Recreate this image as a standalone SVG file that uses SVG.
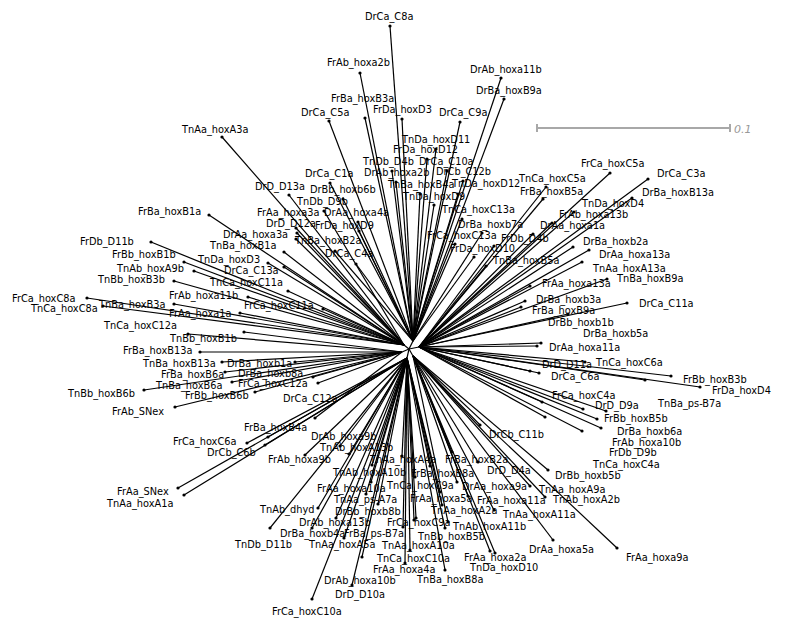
<svg xmlns="http://www.w3.org/2000/svg" width="785" height="623" viewBox="0 0 785 623">
<style>
text{font-family:"DejaVu Sans","Liberation Sans",sans-serif;font-size:9.8px;fill:#000}
circle{fill:#000}
.c line{stroke:#000;stroke-width:1.2}
.sb{stroke:#a8a8a8;stroke-width:2}
.sbt{font-family:"DejaVu Sans",sans-serif;font-style:italic;font-size:11px;fill:#999}
</style>
<rect width="785" height="623" fill="#fff"/>
<g id="scale"><line class="sb" x1="536" y1="128" x2="731" y2="128"/><line class="sb" x1="537" y1="124" x2="537" y2="132"/><line class="sb" x1="730" y1="124" x2="730" y2="132"/><text class="sbt" x="734" y="133">0.1</text></g>
<g class="c" id="connectors">
<line x1="409" y1="349" x2="413" y2="341"/><line x1="409" y1="349" x2="404" y2="345"/><line x1="409" y1="349" x2="402" y2="352"/><line x1="409" y1="349" x2="407" y2="358"/><line x1="409" y1="349" x2="413" y2="356"/><line x1="409" y1="349" x2="419" y2="347"/>
<line x1="413" y1="341" x2="390" y2="26"/><line x1="413" y1="341" x2="360" y2="73"/><line x1="413" y1="341" x2="501" y2="78"/><line x1="413" y1="341" x2="504" y2="99"/><line x1="413" y1="341" x2="365" y2="118"/><line x1="413" y1="341" x2="329" y2="121"/><line x1="413" y1="341" x2="402" y2="119"/><line x1="413" y1="341" x2="460" y2="122"/><line x1="413" y1="341" x2="436" y2="149"/><line x1="413" y1="341" x2="427" y2="159"/><line x1="413" y1="341" x2="392" y2="171"/><line x1="413" y1="341" x2="447" y2="171"/><line x1="413" y1="341" x2="330" y2="183"/><line x1="413" y1="341" x2="396" y2="182"/><line x1="413" y1="341" x2="463" y2="181"/><line x1="413" y1="341" x2="343" y2="199"/><line x1="413" y1="341" x2="420" y2="194"/><line x1="413" y1="341" x2="458" y2="194"/><line x1="413" y1="341" x2="434" y2="205"/><line x1="413" y1="341" x2="462" y2="219"/><line x1="413" y1="341" x2="482" y2="233"/><line x1="413" y1="341" x2="455" y2="244"/><line x1="413" y1="341" x2="474" y2="257"/><line x1="413" y1="341" x2="358" y2="222"/><line x1="413" y1="341" x2="359" y2="231"/><line x1="413" y1="341" x2="335" y2="251"/><line x1="413" y1="341" x2="356" y2="264"/>
<line x1="404" y1="345" x2="222" y2="137"/><line x1="404" y1="345" x2="289" y2="195"/><line x1="404" y1="345" x2="324" y2="211"/><line x1="404" y1="345" x2="296" y2="228"/><line x1="404" y1="345" x2="297" y2="233"/><line x1="404" y1="345" x2="296" y2="239"/><line x1="404" y1="345" x2="209" y2="215"/><line x1="404" y1="345" x2="284" y2="252"/><line x1="404" y1="345" x2="151" y2="242"/><line x1="404" y1="345" x2="184" y2="262"/><line x1="404" y1="345" x2="268" y2="263"/><line x1="404" y1="345" x2="194" y2="271"/><line x1="404" y1="345" x2="284" y2="267"/><line x1="404" y1="345" x2="174" y2="281"/><line x1="404" y1="345" x2="288" y2="291"/><line x1="404" y1="345" x2="248" y2="297"/><line x1="404" y1="345" x2="323" y2="309"/><line x1="404" y1="345" x2="87" y2="298"/><line x1="404" y1="345" x2="103" y2="306"/><line x1="404" y1="345" x2="174" y2="304"/><line x1="404" y1="345" x2="240" y2="313"/>
<line x1="402" y1="352" x2="188" y2="334"/><line x1="402" y1="352" x2="244" y2="332"/><line x1="402" y1="352" x2="200" y2="352"/><line x1="402" y1="352" x2="222" y2="362"/><line x1="402" y1="352" x2="295" y2="362"/><line x1="402" y1="352" x2="225" y2="372"/><line x1="402" y1="352" x2="313" y2="377"/><line x1="402" y1="352" x2="232" y2="382"/><line x1="402" y1="352" x2="318" y2="383"/><line x1="402" y1="352" x2="144" y2="390"/><line x1="402" y1="352" x2="255" y2="392"/><line x1="402" y1="352" x2="175" y2="407"/><line x1="402" y1="352" x2="315" y2="418"/>
<line x1="407" y1="358" x2="268" y2="437"/><line x1="407" y1="358" x2="247" y2="443"/><line x1="407" y1="358" x2="265" y2="445"/><line x1="407" y1="358" x2="178" y2="488"/><line x1="407" y1="358" x2="184" y2="495"/><line x1="407" y1="358" x2="340" y2="446"/><line x1="407" y1="358" x2="349" y2="454"/><line x1="407" y1="358" x2="305" y2="455"/><line x1="407" y1="358" x2="402" y2="456"/><line x1="407" y1="358" x2="372" y2="465"/><line x1="407" y1="358" x2="371" y2="482"/><line x1="407" y1="358" x2="415" y2="477"/><line x1="407" y1="358" x2="366" y2="494"/><line x1="407" y1="358" x2="378" y2="504"/><line x1="407" y1="358" x2="318" y2="508"/><line x1="407" y1="358" x2="336" y2="518"/><line x1="407" y1="358" x2="416" y2="518"/><line x1="407" y1="358" x2="312" y2="528"/><line x1="407" y1="358" x2="403" y2="527"/><line x1="407" y1="358" x2="270" y2="528"/><line x1="407" y1="358" x2="344" y2="538"/><line x1="407" y1="358" x2="414" y2="520"/><line x1="407" y1="358" x2="410" y2="550"/><line x1="407" y1="358" x2="405" y2="563"/><line x1="407" y1="358" x2="362" y2="557"/><line x1="407" y1="358" x2="352" y2="585"/><line x1="407" y1="358" x2="312" y2="599"/><line x1="407" y1="358" x2="430" y2="466"/><line x1="407" y1="358" x2="442" y2="505"/><line x1="407" y1="358" x2="445" y2="528"/><line x1="407" y1="358" x2="445" y2="570"/><line x1="407" y1="358" x2="440" y2="492"/>
<line x1="413" y1="356" x2="452" y2="452"/><line x1="413" y1="356" x2="480" y2="425"/><line x1="413" y1="356" x2="478" y2="462"/><line x1="413" y1="356" x2="548" y2="470"/><line x1="413" y1="356" x2="457" y2="482"/><line x1="413" y1="356" x2="530" y2="486"/><line x1="413" y1="356" x2="468" y2="496"/><line x1="413" y1="356" x2="545" y2="497"/><line x1="413" y1="356" x2="494" y2="510"/><line x1="413" y1="356" x2="448" y2="522"/><line x1="413" y1="356" x2="490" y2="551"/><line x1="413" y1="356" x2="553" y2="540"/><line x1="413" y1="356" x2="617" y2="548"/><line x1="413" y1="356" x2="495" y2="553"/>
<line x1="419" y1="347" x2="610" y2="173"/><line x1="419" y1="347" x2="648" y2="179"/><line x1="419" y1="347" x2="546" y2="187"/><line x1="419" y1="347" x2="543" y2="199"/><line x1="419" y1="347" x2="632" y2="198"/><line x1="419" y1="347" x2="574" y2="212"/><line x1="419" y1="347" x2="552" y2="223"/><line x1="419" y1="347" x2="533" y2="234"/><line x1="419" y1="347" x2="494" y2="246"/><line x1="419" y1="347" x2="573" y2="247"/><line x1="419" y1="347" x2="589" y2="250"/><line x1="419" y1="347" x2="486" y2="266"/><line x1="419" y1="347" x2="582" y2="262"/><line x1="419" y1="347" x2="607" y2="279"/><line x1="419" y1="347" x2="530" y2="286"/><line x1="419" y1="347" x2="525" y2="301"/><line x1="419" y1="347" x2="627" y2="303"/><line x1="419" y1="347" x2="521" y2="307"/><line x1="419" y1="347" x2="568" y2="314"/><line x1="419" y1="347" x2="541" y2="343"/><line x1="419" y1="347" x2="537" y2="346"/><line x1="419" y1="347" x2="585" y2="362"/><line x1="419" y1="347" x2="530" y2="371"/><line x1="419" y1="347" x2="539" y2="373"/><line x1="419" y1="347" x2="671" y2="376"/><line x1="419" y1="347" x2="700" y2="387"/><line x1="419" y1="347" x2="542" y2="402"/><line x1="419" y1="347" x2="583" y2="409"/><line x1="419" y1="347" x2="645" y2="380"/><line x1="419" y1="347" x2="597" y2="419"/><line x1="419" y1="347" x2="601" y2="428"/><line x1="419" y1="347" x2="582" y2="431"/><line x1="419" y1="347" x2="545" y2="417"/><line x1="419" y1="347" x2="606" y2="411"/>
</g>
<g id="nodes">
<g id="DrCa_C8a"><circle cx="390" cy="26" r="1.6"/><text x="365" y="20">DrCa_C8a</text></g>
<g id="FrAb_hoxa2b"><circle cx="360" cy="73" r="1.6"/><text x="327" y="66">FrAb_hoxa2b</text></g>
<g id="DrAb_hoxa11b"><circle cx="501" cy="78" r="1.6"/><text x="470" y="73">DrAb_hoxa11b</text></g>
<g id="DrBa_hoxB9a"><circle cx="504" cy="99" r="1.6"/><text x="476" y="94">DrBa_hoxB9a</text></g>
<g id="FrBa_hoxB3a"><circle cx="365" cy="118" r="1.6"/><text x="331" y="102">FrBa_hoxB3a</text></g>
<g id="DrCa_C5a"><circle cx="329" cy="121" r="1.6"/><text x="301" y="116">DrCa_C5a</text></g>
<g id="FrDa_hoxD3"><circle cx="402" cy="119" r="1.6"/><text x="373" y="113">FrDa_hoxD3</text></g>
<g id="DrCa_C9a"><circle cx="460" cy="122" r="1.6"/><text x="439" y="116">DrCa_C9a</text></g>
<g id="TnDa_hoxD11"><circle cx="436" cy="149" r="1.6"/><text x="402" y="143">TnDa_hoxD11</text></g>
<g id="FrDa_hoxD12"><circle cx="427" cy="159" r="1.6"/><text x="393" y="153">FrDa_hoxD12</text></g>
<g id="TnDb_D4b"><circle cx="392" cy="171" r="1.6"/><text x="363" y="165">TnDb_D4b</text></g>
<g id="DrCa_C10a"><circle cx="447" cy="171" r="1.6"/><text x="419" y="165">DrCa_C10a</text></g>
<g id="DrCa_C1a"><circle cx="330" cy="183" r="1.6"/><text x="305" y="177">DrCa_C1a</text></g>
<g id="DrAb_hoxa2b"><circle cx="396" cy="182" r="1.6"/><text x="364" y="176">DrAb_hoxa2b</text></g>
<g id="DrCb_C12b"><circle cx="463" cy="181" r="1.6"/><text x="436" y="175">DrCb_C12b</text></g>
<g id="DrBb_hoxb6b"><circle cx="343" cy="199" r="1.6"/><text x="310" y="193">DrBb_hoxb6b</text></g>
<g id="TnBa_hoxB4a"><circle cx="420" cy="194" r="1.6"/><text x="388" y="188">TnBa_hoxB4a</text></g>
<g id="TnDa_hoxD12"><circle cx="458" cy="194" r="1.6"/><text x="452" y="187">TnDa_hoxD12</text></g>
<g id="TnDa_hoxD9"><circle cx="434" cy="205" r="1.6"/><text x="403" y="200">TnDa_hoxD9</text></g>
<g id="TnCa_hoxC13a"><circle cx="462" cy="219" r="1.6"/><text x="442" y="213">TnCa_hoxC13a</text></g>
<g id="DrBa_hoxb7a"><circle cx="482" cy="233" r="1.6"/><text x="458" y="228">DrBa_hoxb7a</text></g>
<g id="FrCa_hoxC13a"><circle cx="455" cy="244" r="1.6"/><text x="427" y="239">FrCa_hoxC13a</text></g>
<g id="FrDa_hoxD10"><circle cx="474" cy="257" r="1.6"/><text x="450" y="252">FrDa_hoxD10</text></g>
<g id="DrAa_hoxa4a"><circle cx="358" cy="222" r="1.6"/><text x="324" y="216">DrAa_hoxa4a</text></g>
<g id="FrDa_hoxD9"><circle cx="359" cy="231" r="1.6"/><text x="315" y="229">FrDa_hoxD9</text></g>
<g id="TnBa_hoxB2a"><circle cx="335" cy="251" r="1.6"/><text x="295" y="244">TnBa_hoxB2a</text></g>
<g id="DrCa_C4a"><circle cx="356" cy="264" r="1.6"/><text x="325" y="257">DrCa_C4a</text></g>
<g id="TnAa_hoxA3a"><circle cx="222" cy="137" r="1.6"/><text x="182" y="133">TnAa_hoxA3a</text></g>
<g id="DrD_D13a"><circle cx="289" cy="195" r="1.6"/><text x="255" y="190">DrD_D13a</text></g>
<g id="TnDb_D9b"><circle cx="324" cy="211" r="1.6"/><text x="297" y="205">TnDb_D9b</text></g>
<g id="FrAa_hoxa3a"><circle cx="296" cy="228" r="1.6"/><text x="257" y="216">FrAa_hoxa3a</text></g>
<g id="DrD_D12a"><circle cx="297" cy="233" r="1.6"/><text x="266" y="227">DrD_D12a</text></g>
<g id="DrAa_hoxa3a"><circle cx="296" cy="239" r="1.6"/><text x="223" y="238">DrAa_hoxa3a</text></g>
<g id="FrBa_hoxB1a"><circle cx="209" cy="215" r="1.6"/><text x="138" y="215">FrBa_hoxB1a</text></g>
<g id="TnBa_hoxB1a"><circle cx="284" cy="252" r="1.6"/><text x="210" y="249">TnBa_hoxB1a</text></g>
<g id="FrDb_D11b"><circle cx="151" cy="242" r="1.6"/><text x="80" y="245">FrDb_D11b</text></g>
<g id="FrBb_hoxB1b"><circle cx="184" cy="262" r="1.6"/><text x="112" y="258">FrBb_hoxB1b</text></g>
<g id="TnDa_hoxD3"><circle cx="268" cy="263" r="1.6"/><text x="198" y="263">TnDa_hoxD3</text></g>
<g id="TnAb_hoxA9b"><circle cx="194" cy="271" r="1.6"/><text x="117" y="272">TnAb_hoxA9b</text></g>
<g id="DrCa_C13a"><circle cx="284" cy="267" r="1.6"/><text x="224" y="274">DrCa_C13a</text></g>
<g id="TnBb_hoxB3b"><circle cx="174" cy="281" r="1.6"/><text x="98" y="283">TnBb_hoxB3b</text></g>
<g id="TnCa_hoxC11a"><circle cx="288" cy="291" r="1.6"/><text x="210" y="286">TnCa_hoxC11a</text></g>
<g id="FrAb_hoxa11b"><circle cx="248" cy="297" r="1.6"/><text x="169" y="299">FrAb_hoxa11b</text></g>
<g id="FrCa_hoxC11a"><circle cx="323" cy="309" r="1.6"/><text x="244" y="309">FrCa_hoxC11a</text></g>
<g id="FrCa_hoxC8a"><circle cx="87" cy="298" r="1.6"/><text x="12" y="302">FrCa_hoxC8a</text></g>
<g id="TnCa_hoxC8a"><circle cx="103" cy="306" r="1.6"/><text x="31" y="312">TnCa_hoxC8a</text></g>
<g id="TnBa_hoxB3a"><circle cx="174" cy="304" r="1.6"/><text x="99" y="308">TnBa_hoxB3a</text></g>
<g id="FrAa_hoxa1a"><circle cx="240" cy="313" r="1.6"/><text x="169" y="317">FrAa_hoxa1a</text></g>
<g id="TnCa_hoxC12a"><circle cx="188" cy="334" r="1.6"/><text x="104" y="329">TnCa_hoxC12a</text></g>
<g id="TnBb_hoxB1b"><circle cx="244" cy="332" r="1.6"/><text x="170" y="342">TnBb_hoxB1b</text></g>
<g id="FrBa_hoxB13a"><circle cx="200" cy="352" r="1.6"/><text x="123" y="354">FrBa_hoxB13a</text></g>
<g id="TnBa_hoxB13a"><circle cx="222" cy="362" r="1.6"/><text x="143" y="367">TnBa_hoxB13a</text></g>
<g id="DrBa_hoxb1a"><circle cx="295" cy="362" r="1.6"/><text x="227" y="367">DrBa_hoxb1a</text></g>
<g id="FrBa_hoxB6a"><circle cx="225" cy="372" r="1.6"/><text x="161" y="378">FrBa_hoxB6a</text></g>
<g id="DrBa_hoxb8a"><circle cx="313" cy="377" r="1.6"/><text x="238" y="377">DrBa_hoxb8a</text></g>
<g id="TnBa_hoxB6a"><circle cx="232" cy="382" r="1.6"/><text x="156" y="389">TnBa_hoxB6a</text></g>
<g id="FrCa_hoxC12a"><circle cx="318" cy="383" r="1.6"/><text x="238" y="387">FrCa_hoxC12a</text></g>
<g id="TnBb_hoxB6b"><circle cx="144" cy="390" r="1.6"/><text x="68" y="397">TnBb_hoxB6b</text></g>
<g id="FrBb_hoxB6b"><circle cx="255" cy="392" r="1.6"/><text x="185" y="399">FrBb_hoxB6b</text></g>
<g id="FrAb_SNex"><circle cx="175" cy="407" r="1.6"/><text x="112" y="415">FrAb_SNex</text></g>
<g id="DrCa_C12a"><circle cx="315" cy="418" r="1.6"/><text x="283" y="402">DrCa_C12a</text></g>
<g id="FrBa_hoxB4a"><circle cx="268" cy="437" r="1.6"/><text x="244" y="431">FrBa_hoxB4a</text></g>
<g id="FrCa_hoxC6a"><circle cx="247" cy="443" r="1.6"/><text x="173" y="445">FrCa_hoxC6a</text></g>
<g id="DrCb_C6b"><circle cx="265" cy="445" r="1.6"/><text x="207" y="456">DrCb_C6b</text></g>
<g id="FrAa_SNex"><circle cx="178" cy="488" r="1.6"/><text x="117" y="495">FrAa_SNex</text></g>
<g id="TnAa_hoxA1a"><circle cx="184" cy="495" r="1.6"/><text x="107" y="507">TnAa_hoxA1a</text></g>
<g id="DrAb_hoxa9b"><circle cx="340" cy="446" r="1.6"/><text x="311" y="440">DrAb_hoxa9b</text></g>
<g id="TnAb_hoxA13b"><circle cx="349" cy="454" r="1.6"/><text x="320" y="451">TnAb_hoxA13b</text></g>
<g id="FrAb_hoxa9b"><circle cx="305" cy="455" r="1.6"/><text x="268" y="463">FrAb_hoxa9b</text></g>
<g id="TnAa_hoxA4a"><circle cx="402" cy="456" r="1.6"/><text x="370" y="463">TnAa_hoxA4a</text></g>
<g id="TnAb_hoxA10b"><circle cx="372" cy="465" r="1.6"/><text x="333" y="476">TnAb_hoxA10b</text></g>
<g id="FrAa_hoxa10a"><circle cx="371" cy="482" r="1.6"/><text x="317" y="492">FrAa_hoxa10a</text></g>
<g id="TnCa_hoxC9a"><circle cx="415" cy="477" r="1.6"/><text x="387" y="489">TnCa_hoxC9a</text></g>
<g id="TnAa_ps-A7a"><circle cx="366" cy="494" r="1.6"/><text x="334" y="503">TnAa_ps-A7a</text></g>
<g id="DrBb_hoxb8b"><circle cx="378" cy="504" r="1.6"/><text x="335" y="515">DrBb_hoxb8b</text></g>
<g id="TnAb_dhyd"><circle cx="318" cy="508" r="1.6"/><text x="260" y="513">TnAb_dhyd</text></g>
<g id="DrAb_hoxa13b"><circle cx="336" cy="518" r="1.6"/><text x="299" y="526">DrAb_hoxa13b</text></g>
<g id="FrCa_hoxC9a"><circle cx="416" cy="518" r="1.6"/><text x="387" y="526">FrCa_hoxC9a</text></g>
<g id="DrBa_hoxb4a"><circle cx="312" cy="528" r="1.6"/><text x="280" y="537">DrBa_hoxb4a</text></g>
<g id="FrBa_ps-B7a"><circle cx="403" cy="527" r="1.6"/><text x="344" y="537">FrBa_ps-B7a</text></g>
<g id="TnDb_D11b"><circle cx="270" cy="528" r="1.6"/><text x="235" y="548">TnDb_D11b</text></g>
<g id="TnAa_hoxA5a"><circle cx="344" cy="538" r="1.6"/><text x="309" y="548">TnAa_hoxA5a</text></g>
<g id="TnAa_hoxA10a"><circle cx="414" cy="520" r="1.6"/><text x="382" y="549">TnAa_hoxA10a</text></g>
<g id="TnCa_hoxC10a"><circle cx="410" cy="550" r="1.6"/><text x="377" y="562">TnCa_hoxC10a</text></g>
<g id="FrAa_hoxa4a"><circle cx="405" cy="563" r="1.6"/><text x="373" y="573">FrAa_hoxa4a</text></g>
<g id="DrAb_hoxa10b"><circle cx="362" cy="557" r="1.6"/><text x="324" y="584">DrAb_hoxa10b</text></g>
<g id="DrD_D10a"><circle cx="352" cy="585" r="1.6"/><text x="335" y="598">DrD_D10a</text></g>
<g id="FrCa_hoxC10a"><circle cx="312" cy="599" r="1.6"/><text x="272" y="615">FrCa_hoxC10a</text></g>
<g id="FrBa_hoxB8a"><circle cx="430" cy="466" r="1.6"/><text x="411" y="477">FrBa_hoxB8a</text></g>
<g id="TnAa_hoxA2a"><circle cx="442" cy="505" r="1.6"/><text x="431" y="514">TnAa_hoxA2a</text></g>
<g id="TnBb_hoxB5b"><circle cx="445" cy="528" r="1.6"/><text x="418" y="540">TnBb_hoxB5b</text></g>
<g id="TnBa_hoxB8a"><circle cx="445" cy="570" r="1.6"/><text x="417" y="583">TnBa_hoxB8a</text></g>
<g id="FrAa_hoxa5a"><circle cx="440" cy="492" r="1.6"/><text x="410" y="502">FrAa_hoxa5a</text></g>
<g id="FrBa_hoxB2a"><circle cx="452" cy="452" r="1.6"/><text x="445" y="463">FrBa_hoxB2a</text></g>
<g id="DrCb_C11b"><circle cx="480" cy="425" r="1.6"/><text x="489" y="438">DrCb_C11b</text></g>
<g id="DrD_D4a"><circle cx="478" cy="462" r="1.6"/><text x="487" y="474">DrD_D4a</text></g>
<g id="DrBb_hoxb5b"><circle cx="548" cy="470" r="1.6"/><text x="555" y="479">DrBb_hoxb5b</text></g>
<g id="DrAa_hoxa9a"><circle cx="457" cy="482" r="1.6"/><text x="462" y="490">DrAa_hoxa9a</text></g>
<g id="TnAa_hoxA9a"><circle cx="530" cy="486" r="1.6"/><text x="539" y="493">TnAa_hoxA9a</text></g>
<g id="FrAa_hoxa11a"><circle cx="468" cy="496" r="1.6"/><text x="477" y="504">FrAa_hoxa11a</text></g>
<g id="TnAb_hoxA2b"><circle cx="545" cy="497" r="1.6"/><text x="553" y="503">TnAb_hoxA2b</text></g>
<g id="TnAa_hoxA11a"><circle cx="494" cy="510" r="1.6"/><text x="503" y="518">TnAa_hoxA11a</text></g>
<g id="TnAb_hoxA11b"><circle cx="448" cy="522" r="1.6"/><text x="453" y="530">TnAb_hoxA11b</text></g>
<g id="FrAa_hoxa2a"><circle cx="490" cy="551" r="1.6"/><text x="464" y="561">FrAa_hoxa2a</text></g>
<g id="DrAa_hoxa5a"><circle cx="553" cy="540" r="1.6"/><text x="529" y="553">DrAa_hoxa5a</text></g>
<g id="FrAa_hoxa9a"><circle cx="617" cy="548" r="1.6"/><text x="626" y="561">FrAa_hoxa9a</text></g>
<g id="TnDa_hoxD10"><circle cx="495" cy="553" r="1.6"/><text x="470" y="571">TnDa_hoxD10</text></g>
<g id="FrCa_hoxC5a"><circle cx="610" cy="173" r="1.6"/><text x="581" y="167">FrCa_hoxC5a</text></g>
<g id="DrCa_C3a"><circle cx="648" cy="179" r="1.6"/><text x="657" y="177">DrCa_C3a</text></g>
<g id="TnCa_hoxC5a"><circle cx="546" cy="187" r="1.6"/><text x="519" y="182">TnCa_hoxC5a</text></g>
<g id="FrBa_hoxB5a"><circle cx="543" cy="199" r="1.6"/><text x="520" y="195">FrBa_hoxB5a</text></g>
<g id="DrBa_hoxB13a"><circle cx="632" cy="198" r="1.6"/><text x="642" y="196">DrBa_hoxB13a</text></g>
<g id="TnDa_hoxD4"><circle cx="574" cy="212" r="1.6"/><text x="582" y="207">TnDa_hoxD4</text></g>
<g id="FrAb_hoxa13b"><circle cx="552" cy="223" r="1.6"/><text x="559" y="218">FrAb_hoxa13b</text></g>
<g id="DrAa_hoxa1a"><circle cx="533" cy="234" r="1.6"/><text x="540" y="229">DrAa_hoxa1a</text></g>
<g id="FrDb_D4b"><circle cx="494" cy="246" r="1.6"/><text x="501" y="242">FrDb_D4b</text></g>
<g id="DrBa_hoxb2a"><circle cx="573" cy="247" r="1.6"/><text x="583" y="245">DrBa_hoxb2a</text></g>
<g id="DrAa_hoxa13a"><circle cx="589" cy="250" r="1.6"/><text x="599" y="258">DrAa_hoxa13a</text></g>
<g id="TnBa_hoxB5a"><circle cx="486" cy="266" r="1.6"/><text x="493" y="264">TnBa_hoxB5a</text></g>
<g id="TnAa_hoxA13a"><circle cx="582" cy="262" r="1.6"/><text x="593" y="272">TnAa_hoxA13a</text></g>
<g id="TnBa_hoxB9a"><circle cx="607" cy="279" r="1.6"/><text x="617" y="282">TnBa_hoxB9a</text></g>
<g id="FrAa_hoxa13a"><circle cx="530" cy="286" r="1.6"/><text x="542" y="287">FrAa_hoxa13a</text></g>
<g id="DrBa_hoxb3a"><circle cx="525" cy="301" r="1.6"/><text x="536" y="303">DrBa_hoxb3a</text></g>
<g id="DrCa_C11a"><circle cx="627" cy="303" r="1.6"/><text x="639" y="307">DrCa_C11a</text></g>
<g id="FrBa_hoxB9a"><circle cx="521" cy="307" r="1.6"/><text x="532" y="314">FrBa_hoxB9a</text></g>
<g id="DrBb_hoxb1b"><circle cx="568" cy="314" r="1.6"/><text x="548" y="326">DrBb_hoxb1b</text></g>
<g id="DrBa_hoxb5a"><circle cx="541" cy="343" r="1.6"/><text x="583" y="337">DrBa_hoxb5a</text></g>
<g id="DrAa_hoxa11a"><circle cx="537" cy="346" r="1.6"/><text x="549" y="351">DrAa_hoxa11a</text></g>
<g id="TnCa_hoxC6a"><circle cx="585" cy="362" r="1.6"/><text x="596" y="366">TnCa_hoxC6a</text></g>
<g id="DrD_D11a"><circle cx="530" cy="371" r="1.6"/><text x="542" y="368">DrD_D11a</text></g>
<g id="DrCa_C6a"><circle cx="539" cy="373" r="1.6"/><text x="551" y="380">DrCa_C6a</text></g>
<g id="FrBb_hoxB3b"><circle cx="671" cy="376" r="1.6"/><text x="683" y="383">FrBb_hoxB3b</text></g>
<g id="FrDa_hoxD4"><circle cx="700" cy="387" r="1.6"/><text x="712" y="394">FrDa_hoxD4</text></g>
<g id="FrCa_hoxC4a"><circle cx="542" cy="402" r="1.6"/><text x="552" y="399">FrCa_hoxC4a</text></g>
<g id="DrD_D9a"><circle cx="583" cy="409" r="1.6"/><text x="595" y="409">DrD_D9a</text></g>
<g id="TnBa_ps-B7a"><circle cx="645" cy="380" r="1.6"/><text x="658" y="407">TnBa_ps-B7a</text></g>
<g id="FrBb_hoxB5b"><circle cx="597" cy="419" r="1.6"/><text x="604" y="422">FrBb_hoxB5b</text></g>
<g id="DrBa_hoxb6a"><circle cx="601" cy="428" r="1.6"/><text x="617" y="435">DrBa_hoxb6a</text></g>
<g id="FrAb_hoxa10b"><circle cx="582" cy="431" r="1.6"/><text x="612" y="446">FrAb_hoxa10b</text></g>
<g id="FrDb_D9b"><circle cx="545" cy="417" r="1.6"/><text x="609" y="456">FrDb_D9b</text></g>
<g id="TnCa_hoxC4a"><circle cx="606" cy="411" r="1.6"/><text x="593" y="468">TnCa_hoxC4a</text></g>
</g>
</svg>
